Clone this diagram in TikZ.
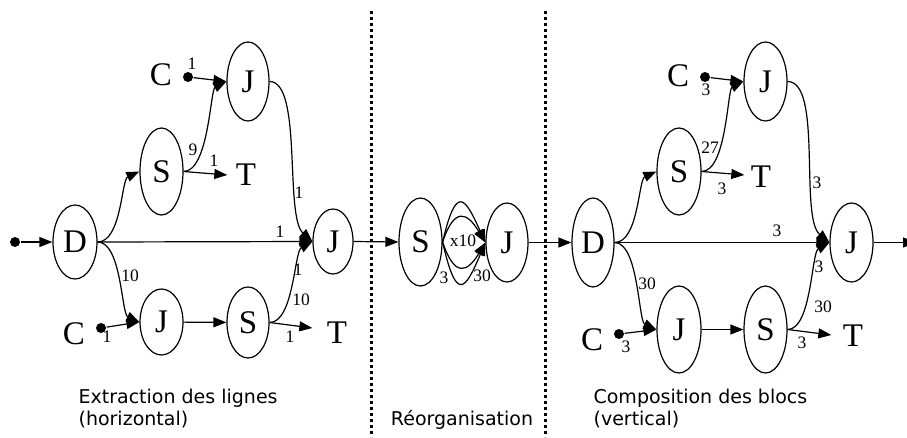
\documentclass[tikz,border=0pt]{standalone}
\usepackage{fontspec}
\setmainfont{Liberation Serif}
\newfontfamily\capfont{DejaVu Sans}
\usetikzlibrary{arrows.meta,shapes.geometric}
\begin{document}
\begin{tikzpicture}[x=1pt,y=-1pt, line width=1.2pt,
  el/.style={ellipse, draw, inner sep=0pt, font=\fontsize{33}{33}\selectfont},
  big/.style={inner sep=0pt, font=\fontsize{33}{33}\selectfont},
  lbl/.style={inner sep=0pt, font=\fontsize{17.5}{17.5}\selectfont},
  dotn/.style={circle, fill, inner sep=0pt, minimum size=10pt},
  captxt/.style={inner sep=0pt, anchor=base west, font=\capfont\fontsize{19}{22}\selectfont},
  arr/.style={-{Triangle[length=13pt,width=10pt]}},
  sepline/.style={line width=3pt, dash pattern=on 3pt off 3pt}]
\useasboundingbox (0,0) rectangle (907,437);

% ---------- left panel ----------
\node[dotn] (s0) at (15,242) {};
\node[el, minimum width=44, minimum height=74] (D1) at (75,242) {D};
\node[el, minimum width=43, minimum height=87] (S1) at (161.5,171.5) {S};
\node[el, minimum width=42, minimum height=79] (J1) at (248,81.5) {J};
\node[big] (C1) at (161,75) {C};
\node[dotn] (c1) at (188,77) {};
\node[big] (T1) at (246,175) {T};
\node[el, minimum width=40, minimum height=65] (J2) at (333,241.5) {J};
\node[el, minimum width=43, minimum height=66] (J3) at (161.5,322) {J};
\node[el, minimum width=42, minimum height=71] (S2) at (248,322.5) {S};
\node[big] (C2) at (74,334) {C};
\node[dotn] (c2) at (101,328) {};
\node[big] (T2) at (337,333) {T};

\draw[arr] (s0) -- (D1.west);
\draw[arr] (D1.east) .. controls +(24,0) and +(-18,8) .. (S1.west);
\draw[arr] (D1.east) .. controls +(24,0) and +(-18,-8) .. (J3.west);
\draw[arr] (D1.east) -- (J2.west);
\draw[arr] (c1) -- (J1.west);
\draw[arr] (S1.east) .. controls +(25,0) and +(-16,8) .. (J1.west);
\draw[arr] (S1.east) -- ([xshift=-8pt]T1.west);
\draw[arr] (J1.east) .. controls +(33,0) and +(-28,-25) .. (J2.west);
\draw[arr] (c2) -- (J3.west);
\draw[arr] (J3) -- (S2);
\draw[arr] (S2.east) -- ([xshift=-14pt,yshift=5pt]T2.west);
\draw[arr] (S2.east) .. controls +(24,0) and +(-18,10) .. (J2.west);

\node[lbl] (la1) at (192,64) {1};
\node[lbl] (la2) at (193,150) {9};
\node[lbl] (la3) at (214,161) {1};
\node[lbl] (la4) at (299,193) {1};
\node[lbl] (la5) at (280,232) {1};
\node[lbl] (la6) at (130,276) {10};
\node[lbl] (la7) at (107,337) {1};
\node[lbl] (la8) at (298,270) {1};
\node[lbl] (la9) at (301,300) {10};
\node[lbl] (la10) at (290,337) {1};

% ---------- middle panel ----------
\node[el, minimum width=43, minimum height=88] (Sm) at (420.5,242) {S};
\node[el, minimum width=42, minimum height=79] (Jm) at (507,242.5) {J};
\draw[arr] (J2.east) -- (Sm.west);
\draw[arr] (Sm.east) .. controls +(14,-60) and +(-20,-44) .. (Jm.west);
\draw[arr] (Sm.east) .. controls +(12,-36) and +(-18,-30) .. (Jm.west);
\draw[arr] (Sm.east) .. controls +(12,36) and +(-18,30) .. (Jm.west);
\draw[arr] (Sm.east) .. controls +(14,62) and +(-20,47) .. (Jm.west);
\node[lbl] (lm1) at (463,241) {x10};
\node[lbl] (lm2) at (444,278) {3};
\node[lbl] (lm3) at (482,276) {30};

% ---------- right panel ----------
\node[el, minimum width=42, minimum height=89] (D3) at (593,242.5) {D};
\node[el, minimum width=44, minimum height=87] (S3) at (679,171.5) {S};
\node[el, minimum width=43, minimum height=79] (J4) at (765.5,81.5) {J};
\node[big] (C3) at (678,76) {C};
\node[dotn] (c3) at (705,77) {};
\node[big] (T3) at (761,177) {T};
\node[el, minimum width=43, minimum height=79] (J5) at (851.5,242.5) {J};
\node[el, minimum width=44, minimum height=87] (J6) at (679,329.5) {J};
\node[el, minimum width=43, minimum height=87] (S4) at (765.5,329.5) {S};
\node[big] (C4) at (592,340) {C};
\node[dotn] (c4) at (619,334) {};
\node[big] (T4) at (853,336) {T};
\coordinate (out) at (916,242.5);

\draw[arr] (Jm.east) -- (D3.west);
\draw[arr] (D3.east) .. controls +(24,0) and +(-18,8) .. (S3.west);
\draw[arr] (D3.east) .. controls +(24,0) and +(-18,-8) .. (J6.west);
\draw[arr] (D3.east) -- (J5.west);
\draw[arr] (c3) -- (J4.west);
\draw[arr] (S3.east) .. controls +(25,0) and +(-16,8) .. (J4.west);
\draw[arr] (S3.east) -- ([xshift=-6pt,yshift=2pt]T3.west);
\draw[arr] (J4.east) .. controls +(35,0) and +(-30,-25) .. (J5.west);
\draw[arr] (c4) -- (J6.west);
\draw[arr] (J6) -- (S4);
\draw[arr] (S4.east) -- ([xshift=-11pt,yshift=1pt]T4.west);
\draw[arr] (S4.east) .. controls +(24,0) and +(-18,10) .. (J5.west);
\draw[arr] (J5.east) -- (out);

\node[lbl] (lr1) at (706,90) {3};
\node[lbl] (lr2) at (710,148) {27};
\node[lbl] (lr3) at (722,189) {3};
\node[lbl] (lr4) at (817,183) {3};
\node[lbl] (lr5) at (777,231) {3};
\node[lbl] (lr6) at (647,284) {30};
\node[lbl] (lr7) at (626,347) {3};
\node[lbl] (lr8) at (819,267) {3};
\node[lbl] (lr9) at (823,307) {30};
\node[lbl] (lr10) at (802,343) {3};

% ---------- separators ----------
\draw[sepline] (371,11) -- (371,437);
\draw[sepline] (545,11) -- (545,437);

% ---------- captions ----------
\node[captxt] (k1) at (78,403) {Extraction des lignes};
\node[captxt] (k2) at (78,425) {(horizontal)};
\node[captxt, anchor=base] (k3) at (462,425) {Réorganisation};
\node[captxt] (k4) at (593,403) {Composition des blocs};
\node[captxt] (k5) at (593,425) {(vertical)};
\end{tikzpicture}
\end{document}
